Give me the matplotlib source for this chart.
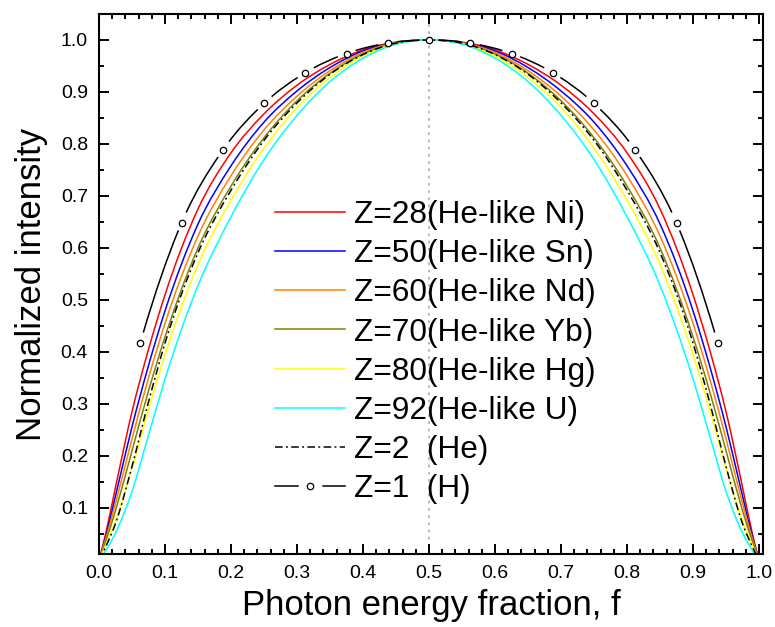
import numpy as np
import matplotlib
matplotlib.use("Agg")
import matplotlib.pyplot as plt
from matplotlib.path import Path
from matplotlib.patches import PathPatch
from matplotlib.lines import Line2D
from matplotlib.ticker import MultipleLocator

plt.rcParams['font.family'] = ['Liberation Sans', 'DejaVu Sans']

# Photon energy fraction grid for the He-like curves
f_grid = [0.0, 0.01, 0.025, 0.05, 0.075, 0.1, 0.15, 0.2, 0.25, 0.3, 0.35, 0.4, 0.45, 0.5,
          0.55, 0.6, 0.65, 0.7, 0.75, 0.8, 0.85, 0.9, 0.925, 0.95, 0.975, 0.99, 1.0]

z28_ni = [0.0, 0.050, 0.140, 0.285, 0.405, 0.510, 0.675, 0.783, 0.858, 0.913, 0.953, 0.981, 0.996, 1.0,
          0.996, 0.981, 0.953, 0.913, 0.858, 0.783, 0.675, 0.510, 0.405, 0.285, 0.140, 0.050, 0.0]
z50_sn = [0.0, 0.044, 0.123, 0.256, 0.374, 0.479, 0.646, 0.758, 0.842, 0.902, 0.947, 0.979, 0.995, 1.0,
          0.995, 0.979, 0.947, 0.902, 0.842, 0.758, 0.646, 0.479, 0.374, 0.256, 0.123, 0.044, 0.0]
z60_nd = [0.0, 0.040, 0.109, 0.233, 0.350, 0.455, 0.623, 0.739, 0.827, 0.892, 0.941, 0.976, 0.995, 1.0,
          0.995, 0.976, 0.941, 0.892, 0.827, 0.739, 0.623, 0.455, 0.350, 0.233, 0.109, 0.040, 0.0]
z70_yb = [0.0, 0.035, 0.095, 0.210, 0.325, 0.429, 0.600, 0.719, 0.812, 0.883, 0.936, 0.973, 0.994, 1.0,
          0.994, 0.973, 0.936, 0.883, 0.812, 0.719, 0.600, 0.429, 0.325, 0.210, 0.095, 0.035, 0.0]
z80_hg = [0.0, 0.028, 0.075, 0.176, 0.290, 0.395, 0.568, 0.692, 0.792, 0.870, 0.928, 0.969, 0.993, 1.0,
          0.993, 0.969, 0.928, 0.870, 0.792, 0.692, 0.568, 0.395, 0.290, 0.176, 0.075, 0.028, 0.0]
z92_u = [0.0, 0.018, 0.052, 0.132, 0.240, 0.348, 0.528, 0.660, 0.770, 0.855, 0.920, 0.965, 0.992, 1.0,
         0.992, 0.965, 0.920, 0.855, 0.770, 0.660, 0.528, 0.348, 0.240, 0.132, 0.052, 0.018, 0.0]
z2_he = [0.0, 0.025, 0.070, 0.180, 0.304, 0.417, 0.591, 0.711, 0.807, 0.879, 0.934, 0.972, 0.994, 1.0,
         0.994, 0.972, 0.934, 0.879, 0.807, 0.711, 0.591, 0.417, 0.304, 0.180, 0.070, 0.025, 0.0]

# Hydrogen (Z=1) symbols
f_h = [0.0625, 0.125, 0.1875, 0.25, 0.3125, 0.375, 0.4375, 0.5,
       0.5625, 0.625, 0.6875, 0.75, 0.8125, 0.875, 0.9375]
z1_h = [0.417, 0.648, 0.788, 0.878, 0.937, 0.974, 0.994, 1.0,
        0.994, 0.974, 0.937, 0.878, 0.788, 0.648, 0.417]

labels = ['Z=28(He-like Ni)', 'Z=50(He-like Sn)', 'Z=60(He-like Nd)', 'Z=70(He-like Yb)',
          'Z=80(He-like Hg)', 'Z=92(He-like U)', 'Z=2  (He)', 'Z=1  (H)']
colors = ['#ff0000', '#0000ff', '#ff8000', '#808000', '#ffff00', '#00ffff']

LW = 1.1


def hermite_segments(x, y):
    """Cubic Bezier segments of a smooth curve passing through (x, y)."""
    x = np.asarray(x, float)
    y = np.asarray(y, float)
    h = np.diff(x)
    d = np.diff(y) / h
    m = np.empty_like(x)
    m[1:-1] = (d[:-1] * h[1:] + d[1:] * h[:-1]) / (h[:-1] + h[1:])
    m[0] = ((2 * h[0] + h[1]) * d[0] - h[0] * d[1]) / (h[0] + h[1])
    m[-1] = ((2 * h[-1] + h[-2]) * d[-1] - h[-1] * d[-2]) / (h[-1] + h[-2])
    segs = []
    for i in range(len(h)):
        p0 = np.array([x[i], y[i]])
        p3 = np.array([x[i + 1], y[i + 1]])
        c1 = np.array([x[i] + h[i] / 3, y[i] + m[i] * h[i] / 3])
        c2 = np.array([x[i + 1] - h[i] / 3, y[i + 1] - m[i + 1] * h[i] / 3])
        segs.append([p0, c1, c2, p3])
    return segs


def split_bezier(seg, t):
    p0, p1, p2, p3 = seg
    p01 = p0 + (p1 - p0) * t
    p12 = p1 + (p2 - p1) * t
    p23 = p2 + (p3 - p2) * t
    p012 = p01 + (p12 - p01) * t
    p123 = p12 + (p23 - p12) * t
    p0123 = p012 + (p123 - p012) * t
    return [p0, p01, p012, p0123], [p0123, p123, p23, p3]


def sub_bezier(seg, t0, t1):
    a, _ = split_bezier(seg, t1)
    _, b = split_bezier(a, t0 / t1)
    return b


def smooth_path(x, y):
    segs = hermite_segments(x, y)
    verts = [segs[0][0]]
    codes = [Path.MOVETO]
    for s in segs:
        verts += [s[1], s[2], s[3]]
        codes += [Path.CURVE4] * 3
    return Path(np.array(verts), codes)


fig = plt.figure(figsize=(7.75, 6.27), dpi=100)
ax = fig.add_axes([99 / 775, 1 - 554 / 627, 664 / 775, 540 / 627])
ax.set_xlim(0.0, 1.006)
ax.set_ylim(0.0115, 1.05)

ax.axvline(0.5, color='#b4b4b4', lw=1.3, ls=(0, (1.5, 2.5)), zorder=0.5)

series = [z28_ni, z50_sn, z60_nd, z70_yb, z80_hg, z92_u]
for vals, c in zip(series, colors):
    ax.add_patch(PathPatch(smooth_path(f_grid, vals), fill=False, edgecolor=c, lw=LW, zorder=2))

he_dash = (0, (5, 2.2, 1.2, 2.2))
ax.add_patch(PathPatch(smooth_path(f_grid, z2_he), fill=False, edgecolor='black', lw=LW,
                       ls=he_dash, zorder=2.5))

# Hydrogen curve: spline through symbols with a gap left around each symbol
gap_px = 9.5
verts, codes = [], []
for seg in hermite_segments(f_h, z1_h):
    a = ax.transData.transform(seg[0])
    b = ax.transData.transform(seg[3])
    L = np.hypot(*(b - a))
    t = gap_px / L
    if t >= 0.5:
        continue
    s = sub_bezier(seg, t, 1 - t)
    verts += s
    codes += [Path.MOVETO, Path.CURVE4, Path.CURVE4, Path.CURVE4]
ax.add_patch(PathPatch(Path(np.array(verts), codes), fill=False, edgecolor='black', lw=LW, zorder=3))
ax.plot(f_h, z1_h, ls='none', marker='o', ms=4.6, mfc='white', mec='black', mew=0.9, zorder=4)

# Axes styling
for sp in ax.spines.values():
    sp.set_linewidth(1.5)
ax.xaxis.set_major_locator(MultipleLocator(0.1))
ax.xaxis.set_minor_locator(MultipleLocator(0.02))
ax.yaxis.set_major_locator(MultipleLocator(0.1))
ax.yaxis.set_minor_locator(MultipleLocator(0.05))
ax.tick_params(which='both', direction='in', top=True, right=True, width=1.4)
ax.tick_params(which='major', length=7.5, labelsize=14, pad=8)
ax.tick_params(which='minor', length=3.8)
ax.set_xticks(np.round(np.arange(0, 1.01, 0.1), 1))
ax.set_xticklabels([f'{v:.1f}' for v in np.arange(0, 1.01, 0.1)])
ax.set_yticks(np.round(np.arange(0.1, 1.01, 0.1), 1))
ax.set_yticklabels([f'{v:.1f}' for v in np.arange(0.1, 1.01, 0.1)])
ax.set_xlim(0.0, 1.006)
ax.set_ylim(0.0115, 1.05)

ax.set_xlabel('Photon energy fraction, f', fontsize=25, labelpad=5)
ax.set_ylabel('Normalized intensity', fontsize=25, labelpad=9)

# Legend
handles = [Line2D([], [], color=c, lw=LW) for c in colors]
handles.append(Line2D([], [], color='black', lw=LW, ls=he_dash))
h_line = Line2D([], [], color='black', lw=LW)
h_gap = Line2D([], [], ls='none', marker='o', ms=16, mfc='white', mec='white')
h_sym = Line2D([], [], ls='none', marker='o', ms=4.6, mfc='white', mec='black', mew=0.9)
handles.append((h_line, h_gap, h_sym))
fig.legend(handles, labels, loc='upper left', bbox_to_anchor=(275 / 775, 1 - 200 / 627),
           frameon=False, fontsize=22.8, handlelength=2.2, handletextpad=0.3,
           labelspacing=0.29, borderpad=0, borderaxespad=0, numpoints=1)

fig.savefig('out.png', dpi=100)
